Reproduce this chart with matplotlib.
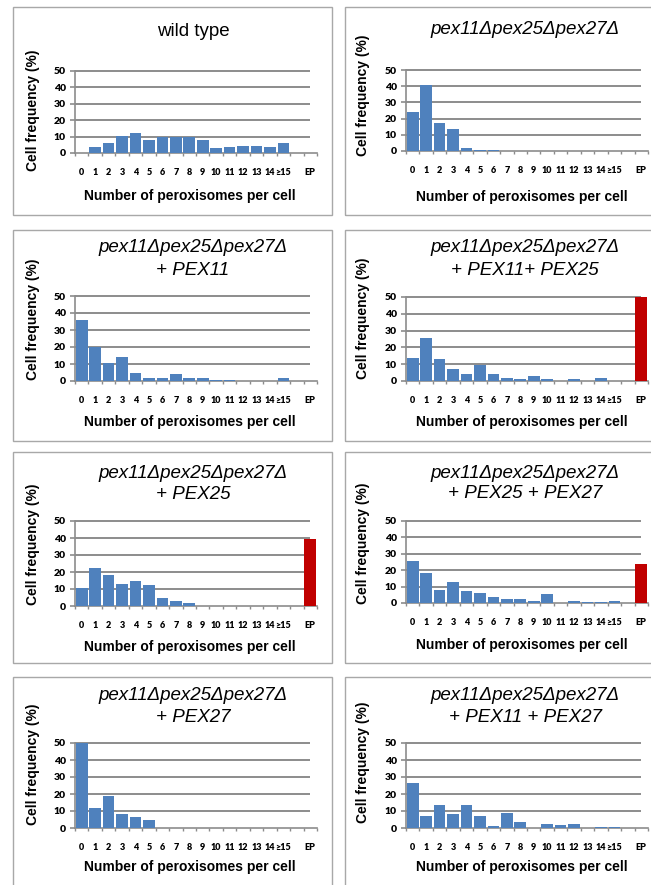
import matplotlib
matplotlib.use("Agg")
import matplotlib.pyplot as plt
import numpy as np
from matplotlib.patches import Rectangle

# ---------------- data ----------------
categories = ["0", "1", "2", "3", "4", "5", "6", "7", "8", "9", "10", "11",
              "12", "13", "14", "\u226515", "", "EP"]

wild_type      = [0, 3.5, 6, 10.5, 12, 8, 10, 9.5, 9.5, 8, 3, 3.5, 4.5, 4.5, 3.8, 6, 0, 0]
triple         = [24, 41, 17.3, 13.8, 1.8, 0.8, 0.8, 0, 0, 0, 0, 0, 0, 0, 0, 0, 0, 0]
plus_11        = [35.8, 20.2, 10.8, 13.9, 4.5, 2, 2, 3.9, 2, 2, 0.6, 0.6, 0, 0, 0, 2, 0, 0]
plus_11_25     = [13.7, 25.8, 13.3, 6.9, 4.4, 9.7, 4.4, 1.8, 1, 3, 1.2, 0, 1.2, 0, 1.8, 0, 0, 50]
plus_25        = [10.6, 22.6, 18.1, 12.8, 14.8, 12.2, 4.7, 2.8, 2, 0, 0, 0, 0, 0, 0, 0, 0, 39.2]
plus_25_27     = [25.5, 18.2, 8.1, 12.8, 7.5, 6.1, 3.4, 2.6, 2.6, 1.4, 5.5, 0, 1.4, 0.6, 0.6, 1.4, 0, 23.5]
plus_27        = [50, 11.5, 18.8, 8.3, 6.7, 4.7, 0, 0, 0, 0, 0, 0, 0, 0, 0, 0, 0, 0]
plus_11_27     = [26.3, 6.9, 13.4, 8.3, 13.4, 6.9, 1.4, 8.9, 3.6, 0, 2.4, 1.8, 2.4, 0, 0.6, 0.6, 0, 0]

strain = "pex11\u0394pex25\u0394pex27\u0394"
titles = [
    ["wild type"],
    [strain],
    [strain, "+ PEX11"],
    [strain, "+ PEX11+ PEX25"],
    [strain, "+ PEX25"],
    [strain, "+ PEX25 + PEX27"],
    [strain, "+ PEX27"],
    [strain, "+ PEX11 + PEX27"],
]
series = [wild_type, triple, plus_11, plus_11_25, plus_25, plus_25_27, plus_27, plus_11_27]

y_ticks = [0, 10, 20, 30, 40, 50]
x_label = "Number of peroxisomes per cell"
y_label = "Cell frequency (%)"

# ---------------- layout (pixels) ----------------
W, H = 651, 885
BLUE = "#4F81BD"
RED = "#C00000"
GRID = "#8C8C8C"
BORDER = "#A8A8A8"

col_x = {0: (75, 317), 1: (406, 648)}
title_x = {0: 193, 1: 525}
ylab_x = {0: 33, 1: 363}
xlab_x = {0: 190, 1: 522}
box_x = {0: (13, 332), 1: (345, 664)}
box_y = [(7, 215), (230, 441), (452, 663), (677, 900)]

# per panel: (col, row, ax_top, ax_bot, title_ys, ylabel_center_y, xlabel_y)
spec = [
    (0, 0, 71, 153, [32], 110, 196),
    (1, 0, 70, 151, [30], 95, 197),
    (0, 1, 296, 381, [248, 270], 319, 422),
    (1, 1, 297, 381, [248, 270], 318, 422),
    (0, 2, 521, 606, [473, 495], 544, 647),
    (1, 2, 521, 603, [473, 494], 543, 645),
    (0, 3, 743, 828, [695, 717], 764, 867),
    (1, 3, 743, 828, [695, 717], 762, 867),
]

fig = plt.figure(figsize=(W / 100, H / 100), dpi=100)
fig.patch.set_facecolor("white")

TFONT = ["Liberation Sans", "DejaVu Sans"]
TICKFONT = ["Lato", "DejaVu Sans"]

# panel borders
for r in range(4):
    for c in range(2):
        x0, x1 = box_x[c]
        y0, y1 = box_y[r]
        fig.add_artist(Rectangle((x0 / W, 1 - y1 / H), (x1 - x0) / W, (y1 - y0) / H,
                                 transform=fig.transFigure, fill=False,
                                 edgecolor=BORDER, lw=1.0))

xs = np.arange(len(categories))
for i, (c, r, yt, yb, tys, yly, xly) in enumerate(spec):
    x0, x1 = col_x[c]
    ax = fig.add_axes([x0 / W, 1 - yb / H, (x1 - x0) / W, (yb - yt) / H])
    vals = series[i]
    colors = [RED if cat == "EP" else BLUE for cat in categories]
    ax.bar(xs, vals, width=0.86, color=colors, zorder=3)
    ax.set_xlim(-0.5, len(categories) - 0.5)
    ax.set_ylim(0, 50)
    ax.hlines(y_ticks[1:], -0.5, len(categories) - 1, colors=GRID, lw=1.4,
              zorder=1, clip_on=False)
    for s in ["top", "right"]:
        ax.spines[s].set_visible(False)
    for s in ["left", "bottom"]:
        ax.spines[s].set_color(GRID)
        ax.spines[s].set_linewidth(1.2)
    ax.set_facecolor("none")
    ax.set_yticks(y_ticks)
    ax.set_yticklabels([str(t) for t in y_ticks], fontsize=7.5, fontweight="heavy",
                       family=TICKFONT)
    ax.tick_params(axis="y", length=3.5, width=1.2, color=GRID, pad=3)
    ax.set_xticks(xs)
    ax.set_xticklabels(categories, fontsize=6.5, fontweight="heavy", family=TICKFONT)
    ax.tick_params(axis="x", which="major", length=0, pad=10.5)
    ax.set_xticks(np.arange(-0.5, len(categories), 1), minor=True)
    ax.tick_params(axis="x", which="minor", length=2.5, width=1.0, color=GRID)

    # titles
    for k, (line, ty) in enumerate(zip(titles[i], tys)):
        style = "normal" if line == "wild type" else "italic"
        fig.text(title_x[c] / W, 1 - ty / H, line, ha="center", va="center",
                 fontsize=13.5, style=style, family=TFONT)
    fig.text(ylab_x[c] / W, 1 - yly / H, y_label, rotation=90, ha="center",
             va="center", fontsize=10, fontweight="bold", family=TFONT)
    fig.text(xlab_x[c] / W, 1 - xly / H, x_label, ha="center", va="center",
             fontsize=10, fontweight="bold", family=TFONT)

fig.savefig("out.png", dpi=100, facecolor="white")
